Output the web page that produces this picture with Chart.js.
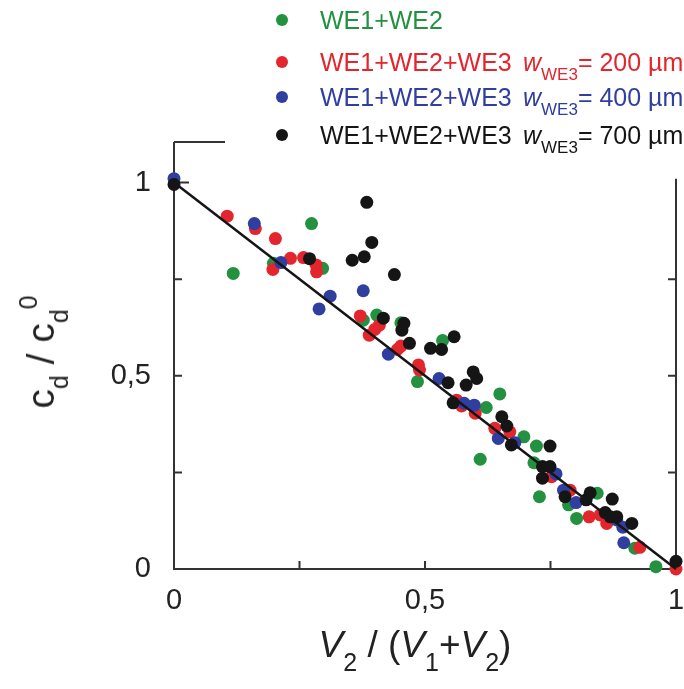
<!DOCTYPE html>
<html>
<head>
<meta charset="utf-8">
<script src="https://cdn.jsdelivr.net/npm/chart.js@4"></script>
<style>
  body { margin: 0; background: #fff; }
  #wrap { position: relative; width: 684px; height: 689px; font-family: "Liberation Sans", Arial, sans-serif; }
  canvas { position: absolute; left: 0; top: 0; }
  .lg { position: absolute; left: 0; height: 30px; line-height: 30px; font-size: 25px; white-space: nowrap; }
  .lg .dot { position: absolute; left: 276px; top: 9px; width: 12px; height: 12px; border-radius: 50%; }
  .lg .txt { position: absolute; left: 320px; }
  .lg .w { position: absolute; left: 523px; }
  .lg sub { font-size: 17px; vertical-align: -9px; }
  .axt { position: absolute; font-size: 37px; color: #222; white-space: nowrap; }
  .axt sub { font-size: 25px; vertical-align: -14px; }
  .axt sup { font-size: 25px; vertical-align: 17px; }
</style>
</head>
<body>
<div id="wrap">
  <canvas id="chart" width="684" height="689"></canvas>

  <div class="lg" style="top:5px;color:#23913f"><span class="dot" style="background:#23913f"></span><span class="txt">WE1+WE2</span></div>
  <div class="lg" style="top:47px;color:#e3262d"><span class="dot" style="background:#e3262d"></span><span class="txt">WE1+WE2+WE3</span><span class="w"><i>w</i><sub>WE3</sub>= 200 µm</span></div>
  <div class="lg" style="top:82px;color:#2f3e9f"><span class="dot" style="background:#2f3e9f"></span><span class="txt">WE1+WE2+WE3</span><span class="w"><i>w</i><sub>WE3</sub>= 400 µm</span></div>
  <div class="lg" style="top:120px;color:#151515"><span class="dot" style="background:#151515"></span><span class="txt">WE1+WE2+WE3</span><span class="w"><i>w</i><sub>WE3</sub>= 700 µm</span></div>

  <div class="axt" id="xtitle" style="left:415px;top:650px;transform:translate(-50%,-50%);"><i>V</i><sub>2</sub> / (<i>V</i><sub>1</sub>+<i>V</i><sub>2</sub>)</div>
  <div class="axt" id="ytitle" style="left:44px;top:352px;transform:translate(-50%,-50%) rotate(-90deg);font-size:39px;">c<sub>d</sub> / c<sub>d</sub><sup>0</sup></div>
</div>

<script>
// ── Data ──
const greenX = [0.118, 0.198, 0.274, 0.296, 0.377, 0.404, 0.452, 0.485, 0.535, 0.622, 0.649, 0.610, 0.697, 0.722, 0.717, 0.728, 0.786, 0.802, 0.843, 0.918, 0.960];
const greenY = [0.765, 0.791, 0.894, 0.778, 0.644, 0.657, 0.637, 0.485, 0.591, 0.418, 0.453, 0.284, 0.342, 0.318, 0.275, 0.187, 0.166, 0.131, 0.196, 0.054, 0.006];

const redX = [0.106, 0.162, 0.202, 0.197, 0.232, 0.258, 0.283, 0.284, 0.371, 0.409, 0.389, 0.400, 0.445, 0.452, 0.487, 0.489, 0.563, 0.573, 0.600, 0.639, 0.669, 0.752, 0.789, 0.827, 0.849, 0.862, 0.928, 1.000];
const redY = [0.913, 0.881, 0.855, 0.775, 0.804, 0.806, 0.787, 0.769, 0.655, 0.631, 0.605, 0.620, 0.568, 0.577, 0.528, 0.515, 0.437, 0.422, 0.403, 0.364, 0.355, 0.239, 0.204, 0.135, 0.140, 0.118, 0.056, 0.000];

const blueX = [0.000, 0.160, 0.213, 0.289, 0.311, 0.377, 0.427, 0.528, 0.578, 0.598, 0.646, 0.679, 0.761, 0.776, 0.801, 0.882, 0.894, 0.896];
const blueY = [1.010, 0.894, 0.793, 0.673, 0.706, 0.720, 0.556, 0.493, 0.429, 0.424, 0.338, 0.327, 0.246, 0.204, 0.172, 0.127, 0.108, 0.068];

const blackX = [0.000, 0.270, 0.355, 0.379, 0.394, 0.384, 0.439, 0.417, 0.458, 0.454, 0.469, 0.511, 0.533, 0.558, 0.546, 0.582, 0.596, 0.603, 0.556, 0.653, 0.663, 0.672, 0.749, 0.734, 0.749, 0.734, 0.779, 0.821, 0.829, 0.873, 0.859, 0.869, 0.882, 0.912, 1.000];
const blackY = [0.995, 0.803, 0.799, 0.808, 0.845, 0.949, 0.762, 0.649, 0.636, 0.618, 0.584, 0.571, 0.568, 0.601, 0.482, 0.476, 0.510, 0.493, 0.430, 0.394, 0.370, 0.321, 0.318, 0.265, 0.265, 0.235, 0.187, 0.179, 0.197, 0.181, 0.146, 0.135, 0.135, 0.118, 0.020];

const fitX = [0, 1];
const fitY = [1, 0];

const xLabelTicks = [0, 0.5, 1];
const yLabelTicks = [0, 0.5, 1];
const xMinorTicks = [0.25, 0.5, 0.75];
const yMinorTicks = [0.25, 0.5, 0.75];

const toPts = (xs, ys) => xs.map((x, i) => ({ x, y: ys[i] }));
const fmt = v => String(v).replace('.', ',');

function dots(data, color, order) {
  return {
    data, order,
    backgroundColor: color,
    borderWidth: 0,
    pointRadius: 6.5,
    clip: false
  };
}

// no extra room for edge labels, the plot box is fixed by hand
function noEdgePadding(s) {
  s.paddingLeft = 0; s.paddingRight = 0; s.paddingTop = 0; s.paddingBottom = 0;
}

// ── Axes frame with inward ticks (the top/right are hidden under the legend) ──
const framePlugin = {
  id: 'frame',
  beforeDatasetsDraw(chart) {
    const { ctx, chartArea: a, scales: { x, y } } = chart;
    ctx.save();
    ctx.strokeStyle = '#333';
    ctx.lineWidth = 2;
    ctx.beginPath();
    // left + bottom
    ctx.moveTo(a.left, a.top);
    ctx.lineTo(a.left, a.bottom);
    ctx.lineTo(a.right, a.bottom);
    // right, stops below the legend
    ctx.moveTo(a.right, a.bottom);
    ctx.lineTo(a.right, y.getPixelForValue(1.01));
    // stub of the top border
    ctx.moveTo(a.left, a.top);
    ctx.lineTo(a.left + 51, a.top);
    // ticks
    yMinorTicks.forEach(v => {
      const py = y.getPixelForValue(v);
      ctx.moveTo(a.left, py); ctx.lineTo(a.left + 8, py);
      ctx.moveTo(a.right, py); ctx.lineTo(a.right - 8, py);
    });
    const p1 = y.getPixelForValue(1);
    ctx.moveTo(a.left, p1); ctx.lineTo(a.left + 15, p1);
    xMinorTicks.forEach(v => {
      const px = x.getPixelForValue(v);
      ctx.moveTo(px, a.bottom); ctx.lineTo(px, a.bottom - 8);
    });
    ctx.stroke();
    ctx.restore();
  }
};

new Chart(document.getElementById('chart'), {
  type: 'scatter',
  data: {
    datasets: [
      {
        data: toPts(fitX, fitY),
        order: 0,
        showLine: true,
        borderColor: '#151515',
        borderWidth: 2.5,
        pointRadius: 0,
        clip: false
      },
      dots(toPts(blackX, blackY), '#151515', 1),
      dots(toPts(blueX, blueY), '#2f3e9f', 2),
      dots(toPts(redX, redY), '#e3262d', 3),
      dots(toPts(greenX, greenY), '#23913f', 4)
    ]
  },
  options: {
    responsive: false,
    animation: false,
    layout: { padding: { top: 142, right: 8, left: 0, bottom: 0 } },
    plugins: { legend: { display: false }, tooltip: { enabled: false } },
    scales: {
      x: {
        type: 'linear', min: 0, max: 1,
        grid: { display: false },
        border: { display: false },
        afterBuildTicks: s => { s.ticks = xLabelTicks.map(value => ({ value })); },
        afterFit: s => { s.height = 120; noEdgePadding(s); },
        ticks: {
          padding: 7,
          color: '#222',
          font: { family: "'Liberation Sans', Arial, sans-serif", size: 29 },
          callback: fmt
        }
      },
      y: {
        type: 'linear', min: 0, max: 1.105,
        grid: { display: false },
        border: { display: false },
        afterBuildTicks: s => { s.ticks = yLabelTicks.map(value => ({ value })); },
        afterFit: s => { s.width = 174; noEdgePadding(s); },
        ticks: {
          padding: 15,
          color: '#222',
          font: { family: "'Liberation Sans', Arial, sans-serif", size: 29 },
          callback: fmt
        }
      }
    }
  },
  plugins: [framePlugin]
});
</script>
</body>
</html>
